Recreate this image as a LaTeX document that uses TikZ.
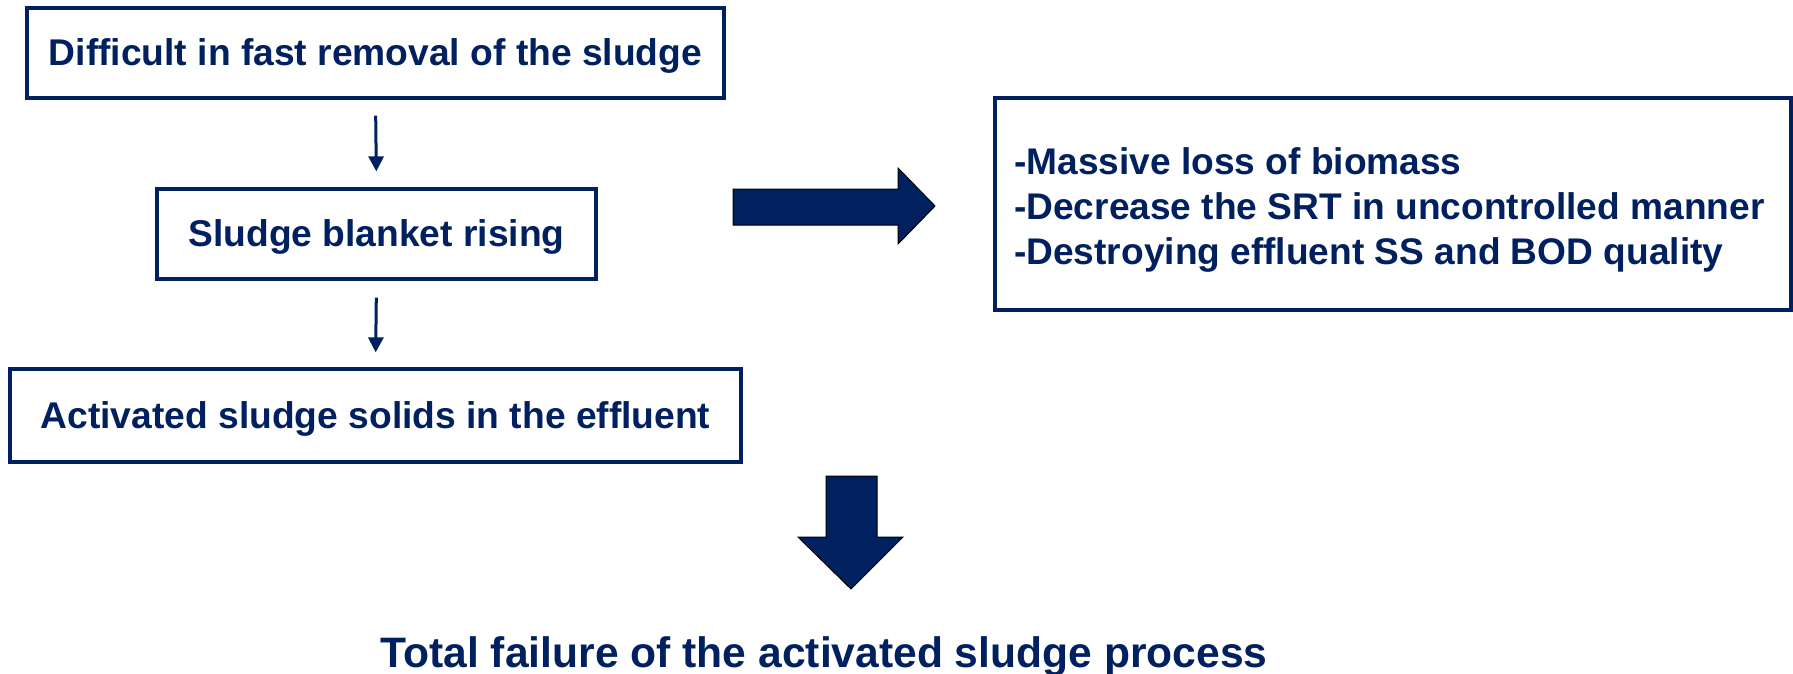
\documentclass[tikz,border=0pt]{standalone}
\usepackage{fontspec}
\setmainfont{Liberation Sans}
\usetikzlibrary{arrows.meta}
\definecolor{navy}{RGB}{0,32,96}
\begin{document}
\begin{tikzpicture}[x=1pt,y=-1pt,
  box/.style={draw=navy,line width=3.2pt,inner sep=0pt,fill=white},
  lbl/.style={text=navy,font=\bfseries\fontsize{37.2}{45}\selectfont,inner sep=0pt},
  thin arrow/.style={draw=navy,line width=3pt,-{Triangle[length=15pt,width=15pt]}},
  block/.style={fill=navy,draw=black,line width=1pt,line join=miter}]
\useasboundingbox (0,0) rectangle (1793,674);
\node[box,minimum width=697pt,minimum height=90pt] (b1) at (375.5,53) {};
\node[lbl] at ([yshift=-3pt]b1.center) {Difficult in fast removal of the sludge};
\node[box,minimum width=439pt,minimum height=90pt] (b2) at (376.5,234) {};
\node[lbl] at ([yshift=-3pt]b2.center) {Sludge blanket rising};
\node[box,minimum width=731pt,minimum height=93pt] (b3) at (375.5,415.5) {};
\node[lbl] at ([yshift=-3pt]b3.center) {Activated sludge solids in the effluent};
\node[box,minimum width=796pt,minimum height=212pt] (b4) at (1393,204) {};
\node[text=navy,font=\bfseries\fontsize{37.1}{44.8}\selectfont,inner sep=0pt,anchor=west,align=left] (t4) at (1014,210) {-Massive loss of biomass\\-Decrease the SRT in uncontrolled manner\\-Destroying effluent SS and BOD quality};
\draw[thin arrow,shorten <=16pt,shorten >=16pt] (b1.south) -- (b2.north);
\draw[thin arrow,shorten <=17pt,shorten >=15pt] (b2.south) -- (b3.north);
\draw[block] (733,189) -- (898,189) -- (898,168) -- (935,206) -- (898,244) -- (898,225) -- (733,225) -- cycle;
\draw[block] (826,476) -- (877,476) -- (877,537) -- (903,537) -- (851,589) -- (798,537) -- (826,537) -- cycle;
\node[text=navy,font=\bfseries\fontsize{42.6}{48}\selectfont,inner sep=0pt] (res) at (824,657) {Total failure of the activated sludge process};
\end{tikzpicture}
\end{document}
